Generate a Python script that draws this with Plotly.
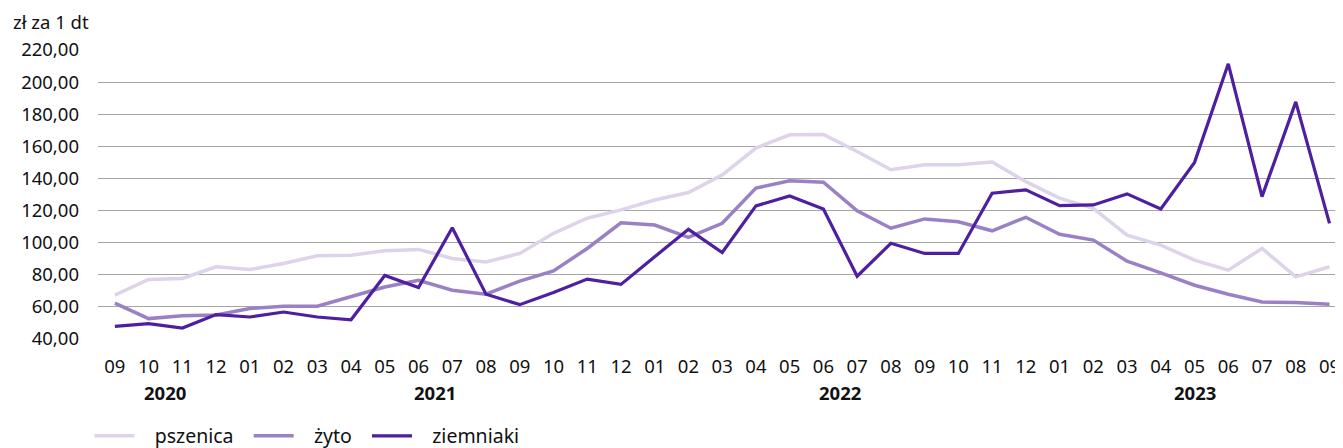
import plotly.graph_objects as go

months = ["09", "10", "11", "12",
          "01", "02", "03", "04", "05", "06", "07", "08", "09", "10", "11", "12",
          "01", "02", "03", "04", "05", "06", "07", "08", "09", "10", "11", "12",
          "01", "02", "03", "04", "05", "06", "07", "08", "09"]
years = ["2020"] * 4 + ["2021"] * 12 + ["2022"] * 12 + ["2023"] * 9

pszenica = [67.3, 77.1, 77.7, 85.0, 83.3, 87.0, 91.8, 92.2, 95.0, 95.8, 90.2, 88.0,
            93.3, 105.8, 115.2, 120.4, 126.6, 131.2, 142.2, 158.9, 167.2, 167.4,
            156.8, 145.4, 148.5, 148.5, 150.2, 138.0, 127.7, 121.4, 104.7, 98.5,
            89.1, 82.9, 96.4, 78.7, 85.0]
zyto = [62.4, 52.7, 54.5, 55.0, 59.0, 60.4, 60.4, 66.6, 72.4, 76.6, 70.4, 67.9,
        76.0, 82.4, 96.4, 112.4, 111.0, 103.3, 112.1, 134.0, 138.5, 137.7,
        119.8, 109.0, 114.8, 113.0, 107.4, 115.8, 105.2, 101.6, 88.5, 81.2,
        73.5, 67.9, 63.0, 62.7, 61.6]
ziemniaki = [47.9, 49.6, 46.8, 55.2, 53.7, 56.8, 53.7, 52.0, 79.6, 72.0, 109.3, 67.9,
             61.4, 68.9, 77.3, 74.0, 91.2, 108.3, 93.9, 122.9, 129.1, 121.0,
             79.1, 99.6, 93.3, 93.3, 130.8, 132.9, 123.1, 123.5, 130.4, 121.0,
             150.0, 211.4, 128.7, 187.7, 112.0]

names = ["pszenica", "żyto", "ziemniaki"]
colors = ["#DDD3EB", "#9A80C5", "#4E1F9E"]
widths = [3.5, 3.5, 3.2]
values = [pszenica, zyto, ziemniaki]

FONT = "Noto Sans"
FS = 18.5
NB = "\u00a0"
xs = list(range(len(months)))

fig = go.Figure()
for i, (name, vals, col, w) in enumerate(zip(names, values, colors, widths)):
    label = NB * 3 + name + (NB * 2 if i < len(names) - 1 else "")
    fig.add_trace(go.Scatter(x=xs, y=vals, name=label, mode="lines",
                             line=dict(color=col, width=w)))

# year labels centred under each group of months
annotations = []
for yr in ["2020", "2021", "2022", "2023"]:
    idx = [i for i, y in enumerate(years) if y == yr]
    annotations.append(dict(x=(idx[0] + idx[-1]) / 2, y=0, xref="x", yref="paper",
                            text="<b>%s</b>" % yr, showarrow=False, yanchor="middle",
                            yshift=-53, font=dict(family=FONT, size=FS, color="#111")))
annotations.append(dict(x=-0.07, y=1.099, xref="paper", yref="paper",
                        text="zł za 1 dt", showarrow=False, xanchor="left",
                        yanchor="middle",
                        font=dict(family=FONT, size=FS, color="#111")))

fig.update_layout(
    width=1335, height=440,
    margin=dict(l=90, r=0, t=42, b=109, autoexpand=False),
    paper_bgcolor="white", plot_bgcolor="white",
    separators=", ",
    font=dict(family=FONT, size=FS, color="#111"),
    showlegend=True,
    legend=dict(orientation="h", xref="container", x=0.061, xanchor="left",
                yref="container", y=0.027, yanchor="middle",
                font=dict(family=FONT, size=19.5, color="#111"), itemwidth=40,
                tracegroupgap=0),
    annotations=annotations,
    xaxis=dict(range=[-0.5, 36.4], tickmode="array", tickvals=xs, ticktext=months,
               showgrid=False, zeroline=False, showline=False, ticks="",
               ticklabelstandoff=14, tickfont=dict(family=FONT, size=FS, color="#111")),
    yaxis=dict(range=[40, 220], tickmode="linear", tick0=40, dtick=20,
               tickformat=".2f", showgrid=True, gridcolor="#A6A6A6", gridwidth=1,
               zeroline=False, showline=False, ticks="", ticklabelstandoff=18,
               tickfont=dict(family=FONT, size=FS, color="#111")),
)

fig.write_html("out.html")
